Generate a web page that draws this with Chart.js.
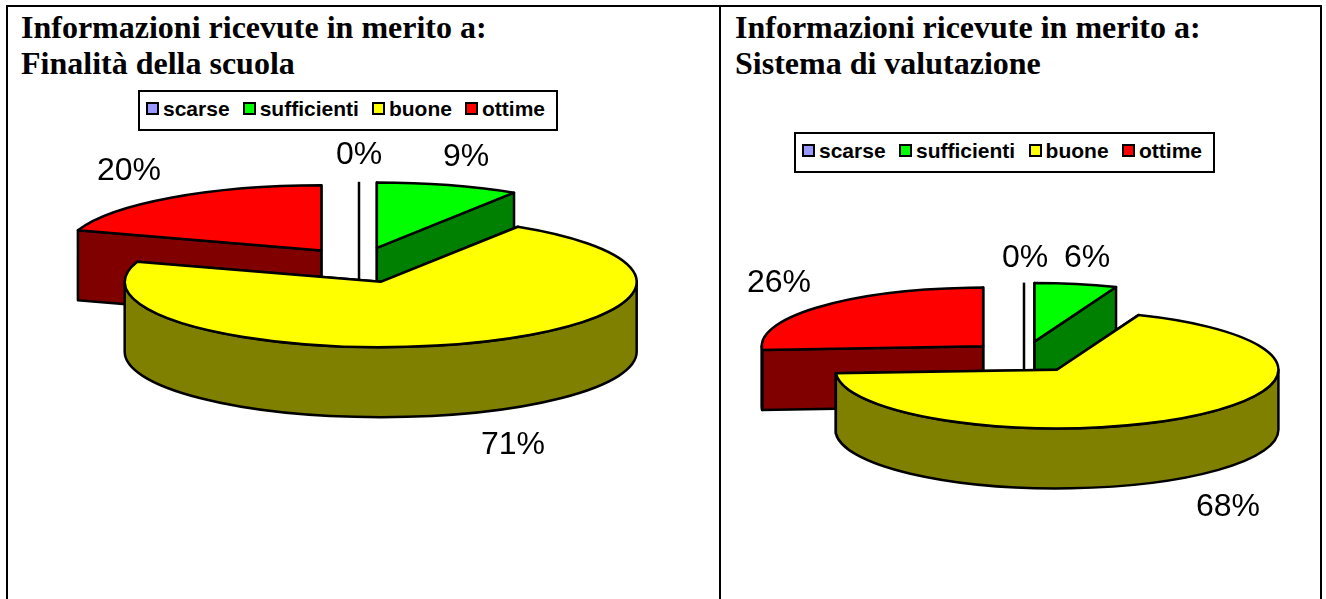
<!DOCTYPE html>
<html lang="it">
<head>
<meta charset="utf-8">
<title>Informazioni ricevute</title>
<script src="https://cdn.jsdelivr.net/npm/chart.js@4"></script>
<style>
    html, body { margin: 0; padding: 0; background: #fff; overflow: hidden; }
    body { position: relative; width: 1326px; height: 599px; }
    .frame { position: absolute; background: #000; }
    .titolo {
        position: absolute;
        margin: 0;
        font: bold 32px/36px "Liberation Serif", serif;
        color: #000;
        white-space: nowrap;
    }
    .legenda {
        position: absolute;
        box-sizing: border-box;
        height: 41px;
        border: 2px solid #000;
        background: #fff;
        display: flex;
        align-items: center;
        justify-content: space-between;
        padding: 0 11px 4px 6px;
        font: bold 21px "Liberation Sans", Arial, sans-serif;
        color: #000;
    }
    .voce { display: flex; align-items: center; gap: 4px; }
    .voce i { display: block; box-sizing: border-box; width: 13px; height: 13px; border: 2px solid #000; }
    canvas { position: absolute; }
</style>
</head>
<body>
<div class="frame" style="left:6px; top:5px; width:1316px; height:2px"></div>
<div class="frame" style="left:6px; top:5px; width:2px; height:594px"></div>
<div class="frame" style="left:719px; top:5px; width:2px; height:594px"></div>
<div class="frame" style="left:1320px; top:5px; width:2px; height:594px"></div>

<h1 class="titolo" style="left:21px; top:9px">Informazioni ricevute in merito a:<br>Finalità della scuola</h1>
<h1 class="titolo" style="left:735px; top:9px">Informazioni ricevute in merito a:<br>Sistema di valutazione</h1>

<div style="position:absolute; left:8px; top:80px; width:679px; height:519px"><canvas id="chartFinalita" style="left:0; top:0"></canvas></div>
<div style="position:absolute; left:722px; top:122px; width:565px; height:477px"><canvas id="chartValutazione" style="left:0; top:0"></canvas></div>

<div class="legenda" id="legendaFinalita" style="left:138px; top:90px; width:420px"></div>
<div class="legenda" id="legendaValutazione" style="left:794px; top:132px; width:421px"></div>

<script>
const categorie = ["scarse", "sufficienti", "buone", "ottime"];
const valoriFinalita = [0, 9, 71, 20];
const valoriValutazione = [0, 6, 68, 26];
const coloriTop = ["#9999FF", "#00FF00", "#FFFF00", "#FF0000"];
const coloriLato = ["#4D4D80", "#008000", "#808000", "#800000"];

// ordine di disegno: dietro -> davanti (la fetta gialla copre le altre)
const ordine = [0, 3, 1, 2];

/** Disegna le fette calcolate da Chart.js come torta 3D staccata */
const torta3D = {
    id: "torta3D",
    beforeDatasetDraw(chart, args, opts) {
        const ctx = chart.ctx;
        const arcs = chart.getDatasetMeta(0).data;

        ctx.save();
        ctx.lineWidth = 2.5;
        ctx.lineJoin = "round";
        ctx.strokeStyle = "#000";

        ordine.forEach(i => {
            const a = arcs[i];
            const r = a.outerRadius;
            const ry = r * opts.tilt;
            const mid = (a.startAngle + a.endAngle) / 2;
            const cx = opts.cx + Math.cos(mid) * a.options.offset;
            const cy = opts.cy + Math.sin(mid) * a.options.offset * opts.tiltOffset;
            const px = t => cx + Math.cos(t) * r;
            const py = t => cy + Math.sin(t) * ry;

            if (a.startAngle === a.endAngle) {
                // fetta da 0%: resta solo una linea verticale
                ctx.beginPath();
                ctx.moveTo(cx, py(a.startAngle));
                ctx.lineTo(cx, cy + opts.depth);
                ctx.stroke();
                return;
            }

            ctx.fillStyle = coloriLato[i];

            // facce radiali
            [a.startAngle, a.endAngle].forEach(t => {
                ctx.beginPath();
                ctx.moveTo(cx, cy);
                ctx.lineTo(px(t), py(t));
                ctx.lineTo(px(t), py(t) + opts.depth);
                ctx.lineTo(cx, cy + opts.depth);
                ctx.closePath();
                ctx.fill();
                ctx.stroke();
            });

            // bordo curvo, solo la parte rivolta verso chi guarda
            const da = Math.max(a.startAngle, 0);
            const a2 = Math.min(a.endAngle, Math.PI);
            if (da < a2) {
                ctx.beginPath();
                ctx.ellipse(cx, cy, r, ry, 0, da, a2);
                ctx.ellipse(cx, cy + opts.depth, r, ry, 0, a2, da, true);
                ctx.closePath();
                ctx.fill();
                ctx.stroke();
            }

            // faccia superiore
            ctx.fillStyle = coloriTop[i];
            ctx.beginPath();
            ctx.moveTo(cx, cy);
            ctx.ellipse(cx, cy, r, ry, 0, a.startAngle, a.endAngle);
            ctx.closePath();
            ctx.fill();
            ctx.stroke();
        });

        // etichette percentuali
        ctx.fillStyle = "#000";
        ctx.font = '32px "Liberation Sans", Arial, sans-serif';
        ctx.textAlign = "center";
        ctx.textBaseline = "middle";
        chart.data.datasets[0].data.forEach((v, i) => {
            const [x, y] = opts.etichette[i];
            ctx.fillText(v + "%", x, y);
        });

        ctx.restore();
        return false; // niente disegno standard delle fette
    }
};

function creaLegenda(id) {
    const box = document.getElementById(id);
    categorie.forEach((nome, i) => {
        const voce = document.createElement("span");
        voce.className = "voce";
        const quadrato = document.createElement("i");
        quadrato.style.background = coloriTop[i];
        voce.appendChild(quadrato);
        voce.appendChild(document.createTextNode(nome));
        box.appendChild(voce);
    });
}

function creaTorta(id, valori, raggio, staccoFetta, opzioni3D) {
    return new Chart(document.getElementById(id), {
        type: "pie",
        plugins: [torta3D],
        data: {
            labels: categorie,
            datasets: [{
                data: valori,
                backgroundColor: coloriTop,
                borderColor: "#000",
                borderWidth: 2,
                radius: raggio,
                offset: staccoFetta
            }]
        },
        options: {
            responsive: true,
            maintainAspectRatio: false,
            animation: false,
            events: [],
            plugins: {
                tooltip: { enabled: false },
                legend: { display: false },
                torta3D: opzioni3D
            }
        }
    });
}

creaLegenda("legendaFinalita");
creaLegenda("legendaValutazione");

creaTorta("chartFinalita", valoriFinalita, 256, 64, {
    cx: 351, cy: 185, tilt: 0.255, tiltOffset: 0.28, depth: 70,
    etichette: [[351, 75], [458, 77], [505, 365], [121, 91]]
});

creaTorta("chartValutazione", valoriValutazione, 221.5, 56, {
    cx: 302, cy: 235, tilt: 0.265, tiltOffset: 0.28, depth: 60,
    etichette: [[303, 136], [365, 136], [506, 385], [57, 161]]
});
</script>
</body>
</html>
